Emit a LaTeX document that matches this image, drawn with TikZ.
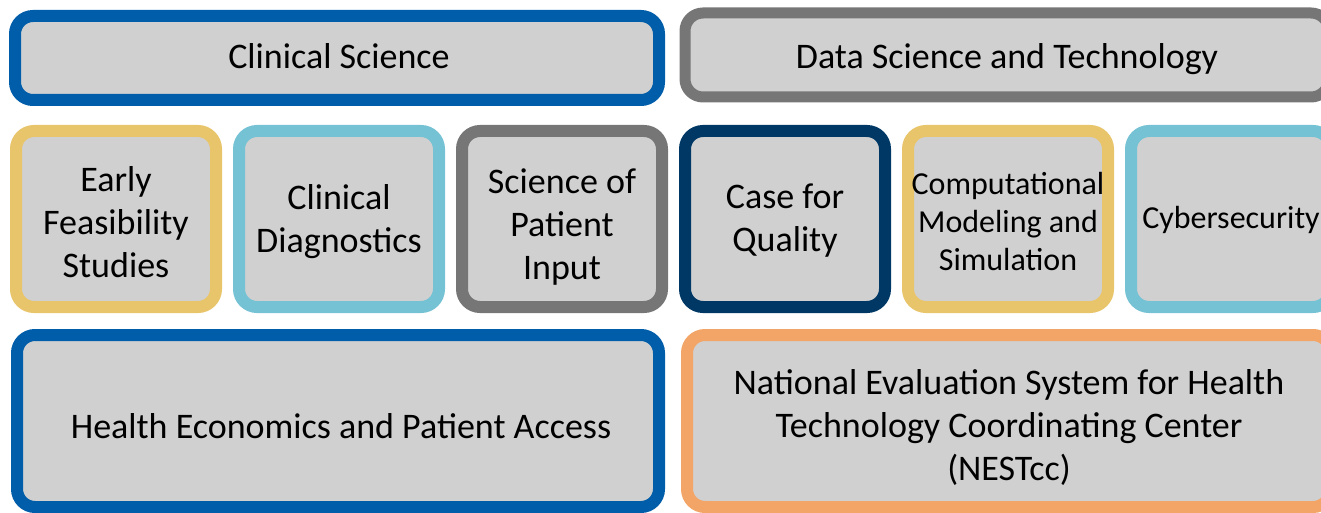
\documentclass[tikz,border=0pt]{standalone}
\usepackage{fontspec}
\setmainfont{Carlito}
\definecolor{cblue}{HTML}{005DA9}
\definecolor{cgray}{HTML}{767676}
\definecolor{cyellow}{HTML}{E8C46A}
\definecolor{clight}{HTML}{74C2D4}
\definecolor{cnavy}{HTML}{003865}
\definecolor{corange}{HTML}{F2A566}
\definecolor{cfill}{HTML}{D0D0D0}
\tikzset{
  tile/.style={draw, fill=cfill, line width=12pt, rounded corners=18pt,
    inner sep=0pt, outer sep=0pt},
  wide/.style={tile, minimum width=644pt},
  small/.style={tile, minimum width=200pt, minimum height=176pt},
  lbl/.style={align=center, inner sep=0pt, text=black, font=\fontsize{36}{43}\selectfont},
  smalllbl/.style={lbl, font=\fontsize{32}{38}\selectfont}
}
\begin{document}
\begin{tikzpicture}[x=1pt,y=-1pt]
\useasboundingbox (0,0) rectangle (1321,513);
\node[wide, draw=cblue, minimum height=84pt] (cs) at (337,58) {};
\node[wide, draw=cgray, line width=11pt, minimum height=84pt] (ds) at (1007,55) {};
\node[small, draw=cyellow] (efs) at (116,219) {};
\node[small, draw=clight] (cd) at (339,219) {};
\node[small, draw=cgray] (spi) at (562,219) {};
\node[small, draw=cnavy] (cfq) at (785,219) {};
\node[small, draw=cyellow] (cms) at (1008,219) {};
\node[small, draw=clight] (cyb) at (1231,219) {};
\node[wide, draw=cblue, minimum width=642pt, minimum height=172pt] (hepa) at (338,421) {};
\node[wide, draw=corange, minimum height=172pt] (nest) at (1009,421) {};
\node[lbl] (cst) at ([xshift=2pt,yshift=2pt]cs.center) {Clinical Science};
\node[lbl] (dst) at ([yshift=-4pt]ds.center) {Data Science and Technology};
\node[lbl] (efst) at ([yshift=-3pt]efs.center) {Early\\Feasibility\\Studies};
\node[lbl] (cdt) at ([yshift=-2.5pt]cd.center) {Clinical\\Diagnostics};
\node[lbl] (spit) at ([yshift=-8pt]spi.center) {Science of\\Patient\\Input};
\node[lbl] (cfqt) at ([yshift=-2pt]cfq.center) {Case for\\Quality};
\node[smalllbl] (cmst) at ([yshift=-2.5pt]cms.center) {Computational\\Modeling and\\Simulation};
\node[smalllbl] (cybt) at ([yshift=-1pt]cyb.center) {Cybersecurity};
\node[lbl] (hepat) at ([xshift=3pt,yshift=-5pt]hepa.center) {Health Economics and Patient Access};
\node[lbl] (nestt) at ([yshift=-6pt]nest.center) {National Evaluation System for Health\\Technology Coordinating Center\\(NESTcc)};
\end{tikzpicture}
\end{document}
